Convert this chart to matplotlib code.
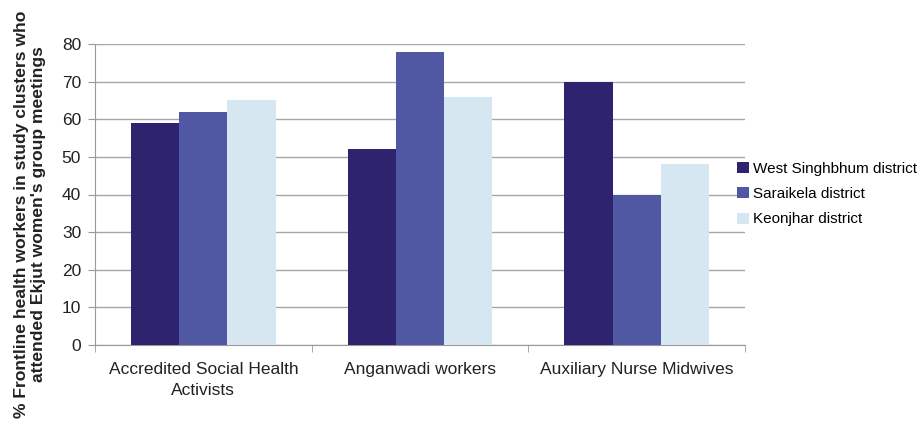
import matplotlib
matplotlib.use("Agg")
import matplotlib.pyplot as plt
import numpy as np

categories = ["Accredited Social Health\nActivists", "Anganwadi workers", "Auxiliary Nurse Midwives"]
series_names = ["West Singhbhum district", "Saraikela district", "Keonjhar district"]
west_singhbhum = [59, 52, 70]
saraikela = [62, 78, 40]
keonjhar = [65, 66, 48]
yticks = [0, 10, 20, 30, 40, 50, 60, 70, 80]

colors = ["#2D236E", "#5058A4", "#D6E7F1"]
plt.rcParams['font.family'] = ['Liberation Sans', 'DejaVu Sans']

fig = plt.figure(figsize=(9.21, 4.29), dpi=100)
ax = fig.add_axes([95/921, 1-345/429, 650/921, 301/429])

x = np.arange(len(categories))
w = 0.223
for i, (vals, name) in enumerate(zip([west_singhbhum, saraikela, keonjhar], series_names)):
    ax.bar(x + (i-1)*w, vals, width=w, color=colors[i], label=name, zorder=3)

ax.set_xlim(-0.5, 2.5)
ax.set_ylim(0, 80)
ax.set_yticks(yticks)
ax.yaxis.grid(True, color="#A6A6A6", linewidth=1, zorder=0)
ax.set_xticks(x)
ax.set_xticklabels(categories, fontsize=12.5, color="#222222", linespacing=1.55)
ax.tick_params(axis='x', length=0, pad=12)
ax.set_xticks([-0.5, 0.5, 1.5, 2.5], minor=True)
ax.tick_params(axis='x', which='minor', length=5, color="#999999")
ax.tick_params(axis='y', length=5, color="#999999", labelsize=12.5, labelcolor="#222222", pad=5)
for s in ['top', 'right']:
    ax.spines[s].set_visible(False)
for s in ['left', 'bottom']:
    ax.spines[s].set_color("#999999")

ax.legend(loc='center left', bbox_to_anchor=(731/921, 1-194/429), bbox_transform=fig.transFigure,
          frameon=False, fontsize=11, handlelength=0.75, handleheight=0.75, handletextpad=0.3,
          labelspacing=0.75, borderaxespad=0)

fig.text(0.033, 0.5, "% Frontline health workers in study clusters who\nattended Ekjut women's group meetings",
         rotation=90, ha='center', va='center', multialignment='center', fontsize=12.6,
         fontweight='bold', color="#222222", linespacing=1.15)

fig.savefig("out.png", dpi=100)
